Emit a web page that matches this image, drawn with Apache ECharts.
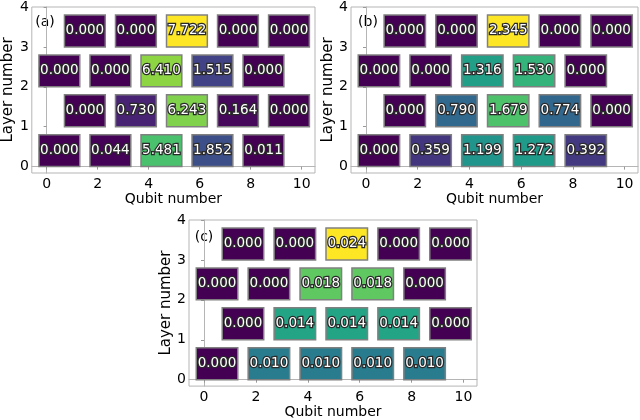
<!DOCTYPE html>
<html><head><meta charset="utf-8">
<script src="https://cdn.jsdelivr.net/npm/echarts@6/dist/echarts.min.js"></script>
<style>html,body{margin:0;padding:0;background:#fff}#c{width:640px;height:420px}</style>
</head><body><div id="c"></div>
<script>
// ---- data ----
const xTicks = [0, 2, 4, 6, 8, 10];
const yTicks = [0, 1, 2, 3, 4];
const layerStart = [0, 1, 0, 1];          // first qubit of the gates in each layer
const panelLabels = ['(a)', '(b)', '(c)'];
const panelA = [
  [0.000, 0.044, 5.481, 1.852, 0.011],
  [0.000, 0.730, 6.243, 0.164, 0.000],
  [0.000, 0.000, 6.410, 1.515, 0.000],
  [0.000, 0.000, 7.722, 0.000, 0.000]
];
const panelB = [
  [0.000, 0.359, 1.199, 1.272, 0.392],
  [0.000, 0.790, 1.679, 0.774, 0.000],
  [0.000, 0.000, 1.316, 1.530, 0.000],
  [0.000, 0.000, 2.345, 0.000, 0.000]
];
const panelC = [
  [0.000, 0.010, 0.010, 0.010, 0.010],
  [0.000, 0.014, 0.014, 0.014, 0.000],
  [0.000, 0.000, 0.018, 0.018, 0.000],
  [0.000, 0.000, 0.024, 0.000, 0.000]
];
const panels = [panelA, panelB, panelC];

// ---- style ----
const viridis = ['#440154','#482475','#414487','#355f8d','#2a788e','#21918c','#22a884','#44bf70','#7ad151','#bddf26','#fde725'];
function hex2rgb(h){return [parseInt(h.slice(1,3),16),parseInt(h.slice(3,5),16),parseInt(h.slice(5,7),16)];}
function cmap(t){
  t = Math.max(0, Math.min(1, t));
  const p = t * (viridis.length - 1), i = Math.min(Math.floor(p), viridis.length - 2), f = p - i;
  const a = hex2rgb(viridis[i]), b = hex2rgb(viridis[i+1]);
  return 'rgb(' + a.map((v,k)=>Math.round(v + (b[k]-v)*f)).join(',') + ')';
}
const FONT = 'DejaVu Sans';
const grids = [
  {left: 27, top: 5, width: 288, height: 168},
  {left: 351, top: 5, width: 287, height: 168},
  {left: 189, top: 220, width: 288, height: 168}
];
const labelPos = [[45, 22], [368, 22], [204, 237]];
const gateHalf = 0.8, gateH = 0.8;

const chart = echarts.init(document.getElementById('c'), null, {renderer: 'canvas'});
const xAxes = [], yAxes = [], series = [], graphics = [];
panels.forEach((P, pi) => {
  const vmax = Math.max(...P.flat());
  const data = [];
  P.forEach((row, L) => row.forEach((v, k) => data.push([layerStart[L] + 2*k + 0.5, L, v])));
  xAxes.push({
    gridIndex: pi, type: 'value', min: -0.58, max: 10.52,
    axisLine: {show: true, lineStyle: {color: '#b5b5b5', width: 1}},
    axisTick: {show: true, customValues: xTicks, length: 3, inside: false, lineStyle: {color: '#999'}},
    axisLabel: {customValues: xTicks, fontSize: 14, color: '#000', fontFamily: FONT, margin: 4},
    splitLine: {show: false},
    name: 'Qubit number', nameLocation: 'middle', nameGap: 18,
    nameTextStyle: {fontSize: 14, color: '#000', fontFamily: FONT}
  });
  yAxes.push({
    gridIndex: pi, type: 'value', min: -0.16, max: 4,
    axisLine: {show: true, lineStyle: {color: '#b5b5b5', width: 1}},
    axisTick: {show: true, customValues: yTicks, length: 3, inside: false, lineStyle: {color: '#999'}},
    axisLabel: {customValues: yTicks, fontSize: 14, color: '#000', fontFamily: FONT, margin: 3},
    splitLine: {show: false},
    name: 'Layer number', nameLocation: 'middle', nameGap: 11,
    nameTextStyle: {fontSize: 15, color: '#000', fontFamily: FONT}
  });
  series.push({
    type: 'custom', xAxisIndex: pi, yAxisIndex: pi, data: data, clip: false,
    renderItem: function(params, api){
      const c = api.value(0), L = api.value(1), v = api.value(2);
      const tl = api.coord([c - gateHalf, L + gateH]);
      const sz = api.size([2*gateHalf, gateH]);
      const ctr = api.coord([c, L + gateH/2]);
      return {type: 'group', children: [
        {type: 'rect', shape: {x: tl[0], y: tl[1], width: sz[0], height: sz[1]},
         style: {fill: cmap(v / vmax), stroke: '#808080', lineWidth: 1.5}},
        {type: 'text', x: ctr[0], y: ctr[1], style: {text: v.toFixed(3), fill: '#fff', fontSize: 13.5, fontFamily: FONT,
          align: 'center', verticalAlign: 'middle', stroke: '#2a2a2a', lineWidth: 2.5, strokeFirst: true}}
      ]};
    }
  });
  graphics.push({type: 'text', x: labelPos[pi][0], y: labelPos[pi][1],
    style: {text: panelLabels[pi], fontSize: 14, fontFamily: FONT, fill: '#000', align: 'center', verticalAlign: 'middle'}});
});

chart.setOption({
  animation: false,
  backgroundColor: '#fff',
  grid: grids.map(g => Object.assign({show: true, borderColor: '#b5b5b5', borderWidth: 1, backgroundColor: 'transparent'}, g)),
  xAxis: xAxes, yAxis: yAxes, series: series, graphic: graphics
});
</script></body></html>
